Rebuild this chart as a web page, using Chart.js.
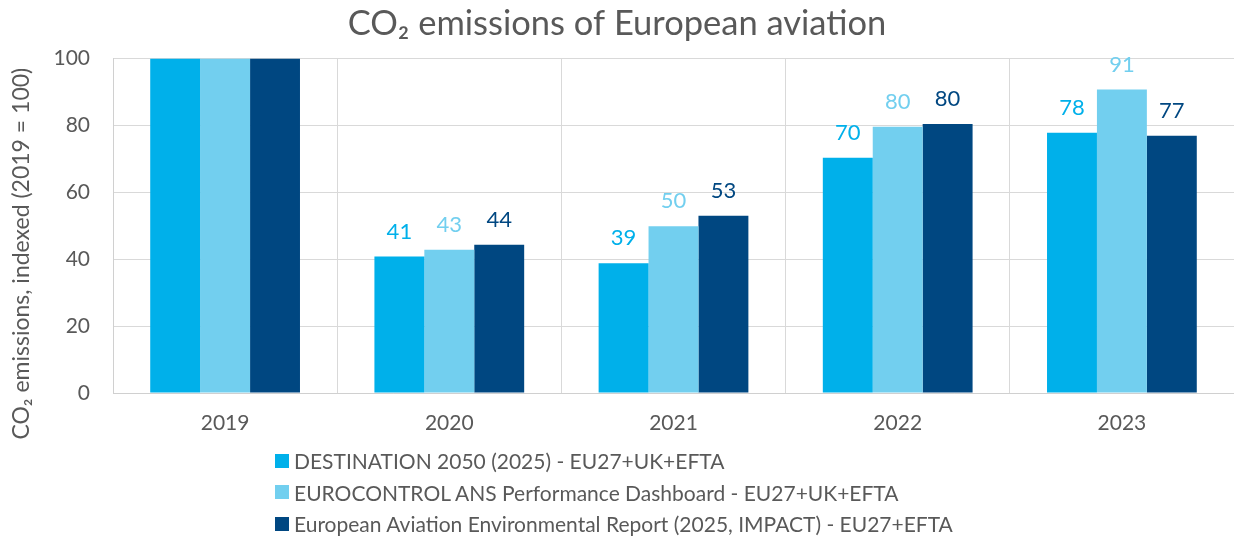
<!DOCTYPE html>
<html>
<head>
<meta charset="utf-8">
<script src="https://cdn.jsdelivr.net/npm/chart.js@4.4.1/dist/chart.umd.min.js"></script>
<style>
  html, body { margin: 0; padding: 0; background: #ffffff; }
  #wrap { position: relative; width: 1234px; height: 541px; }
  #c { position: absolute; left: 0; top: 0; }
  #legend { position: absolute; left: 275px; top: 445px; font-family: Lato, sans-serif; font-size: 21px; color: #595959; }
  #legend .item { display: flex; align-items: center; height: 31.5px; white-space: nowrap; }
  #legend .box { width: 14px; height: 14px; margin-right: 5px; flex: none; }
</style>
</head>
<body>
<div id="wrap">
  <canvas id="c" width="1234" height="541"></canvas>
  <div id="legend"></div>
</div>
<script>
// ---- data ----
const categories = ["2019", "2020", "2021", "2022", "2023"];
const seriesNames = [
  "DESTINATION 2050 (2025) - EU27+UK+EFTA",
  "EUROCONTROL ANS Performance Dashboard - EU27+UK+EFTA",
  "European Aviation Environmental Report (2025, IMPACT) - EU27+EFTA"
];
const destination2050 = [100, 40.8, 38.8, 70.3, 77.8];
const eurocontrolDashboard = [100, 42.8, 49.8, 79.6, 90.7];
const eaerImpact = [100, 44.3, 53.0, 80.4, 76.9];
const labelShown = [false, true, true, true, true];
const yTicks = [0, 20, 40, 60, 80, 100];
const yTitle = 'CO\u2082 emissions, indexed (2019 = 100)';

const colors = ["#00B0EA", "#72CFEF", "#004781"];
const FONT = "Lato, sans-serif";
const GRAY = "#595959";

const valueLabels = {
  id: 'valueLabels',
  afterDatasetsDraw(chart) {
    const ctx = chart.ctx;
    ctx.save();
    ctx.font = "22px " + FONT;
    ctx.textAlign = 'center';
    ctx.textBaseline = 'middle';
    chart.data.datasets.forEach((ds, di) => {
      const meta = chart.getDatasetMeta(di);
      meta.data.forEach((bar, i) => {
        if (!labelShown[i]) return;
        ctx.fillStyle = ds.backgroundColor;
        ctx.fillText(String(Math.round(ds.data[i])), bar.x, bar.y - 25);
      });
    });
    ctx.restore();
  }
};

// y-axis title drawn centred on the plot + category-label block, like the original
const yAxisTitle = {
  id: 'yAxisTitle',
  afterDraw(chart) {
    const ctx = chart.ctx;
    const area = chart.chartArea;
    const xs = chart.scales.x;
    const cy = (area.top + xs.bottom - 18) / 2 + 12;
    ctx.save();
    ctx.translate(29, cy);
    ctx.rotate(-Math.PI / 2);
    ctx.font = "23px " + FONT;
    ctx.fillStyle = GRAY;
    ctx.textAlign = 'center';
    ctx.textBaseline = 'alphabetic';
    ctx.fillText(yTitle, 0, 0);
    ctx.restore();
  }
};

const chart = new Chart(document.getElementById('c'), {
  type: 'bar',
  data: {
    labels: categories,
    datasets: [
      { label: seriesNames[0], data: destination2050, backgroundColor: colors[0] },
      { label: seriesNames[1], data: eurocontrolDashboard, backgroundColor: colors[1] },
      { label: seriesNames[2], data: eaerImpact, backgroundColor: colors[2] }
    ]
  },
  options: {
    responsive: false,
    animation: false,
    devicePixelRatio: 1,
    layout: { padding: { left: 0, right: 0, top: 0, bottom: 98 } },
    datasets: { bar: { categoryPercentage: 0.668, barPercentage: 1.0 } },
    plugins: {
      legend: { display: false },
      tooltip: { enabled: false },
      title: {
        display: true,
        text: 'CO\u2082 emissions of European aviation',
        color: GRAY,
        font: { family: FONT, size: 34.5, weight: 'normal', lineHeight: 1.2 },
        padding: { top: 3, bottom: 14 }
      }
    },
    scales: {
      x: {
        grid: { display: true, color: '#d9d9d9', lineWidth: 1, drawTicks: false, offset: true },
        border: { display: true, color: '#d0d0d0' },
        ticks: { color: GRAY, font: { family: FONT, size: 21 }, padding: 18 },
        afterFit(scale) { scale.height = 50; }
      },
      y: {
        min: 0, max: 100,
        afterBuildTicks(scale) { scale.ticks = yTicks.map(v => ({ value: v })); },
        grid: { color: '#d9d9d9', lineWidth: 1, drawTicks: false },
        border: { display: true, color: '#d0d0d0' },
        ticks: { color: GRAY, font: { family: FONT, size: 21 }, padding: 23 },
        afterFit(scale) { scale.width = 113; }
      }
    }
  },
  plugins: [valueLabels, yAxisTitle]
});

// HTML legend built from the chart's datasets
const legendEl = document.getElementById('legend');
chart.data.datasets.forEach(ds => {
  const item = document.createElement('div');
  item.className = 'item';
  const box = document.createElement('span');
  box.className = 'box';
  box.style.background = ds.backgroundColor;
  const txt = document.createElement('span');
  txt.textContent = ds.label;
  item.appendChild(box);
  item.appendChild(txt);
  legendEl.appendChild(item);
});
</script>
</body>
</html>
